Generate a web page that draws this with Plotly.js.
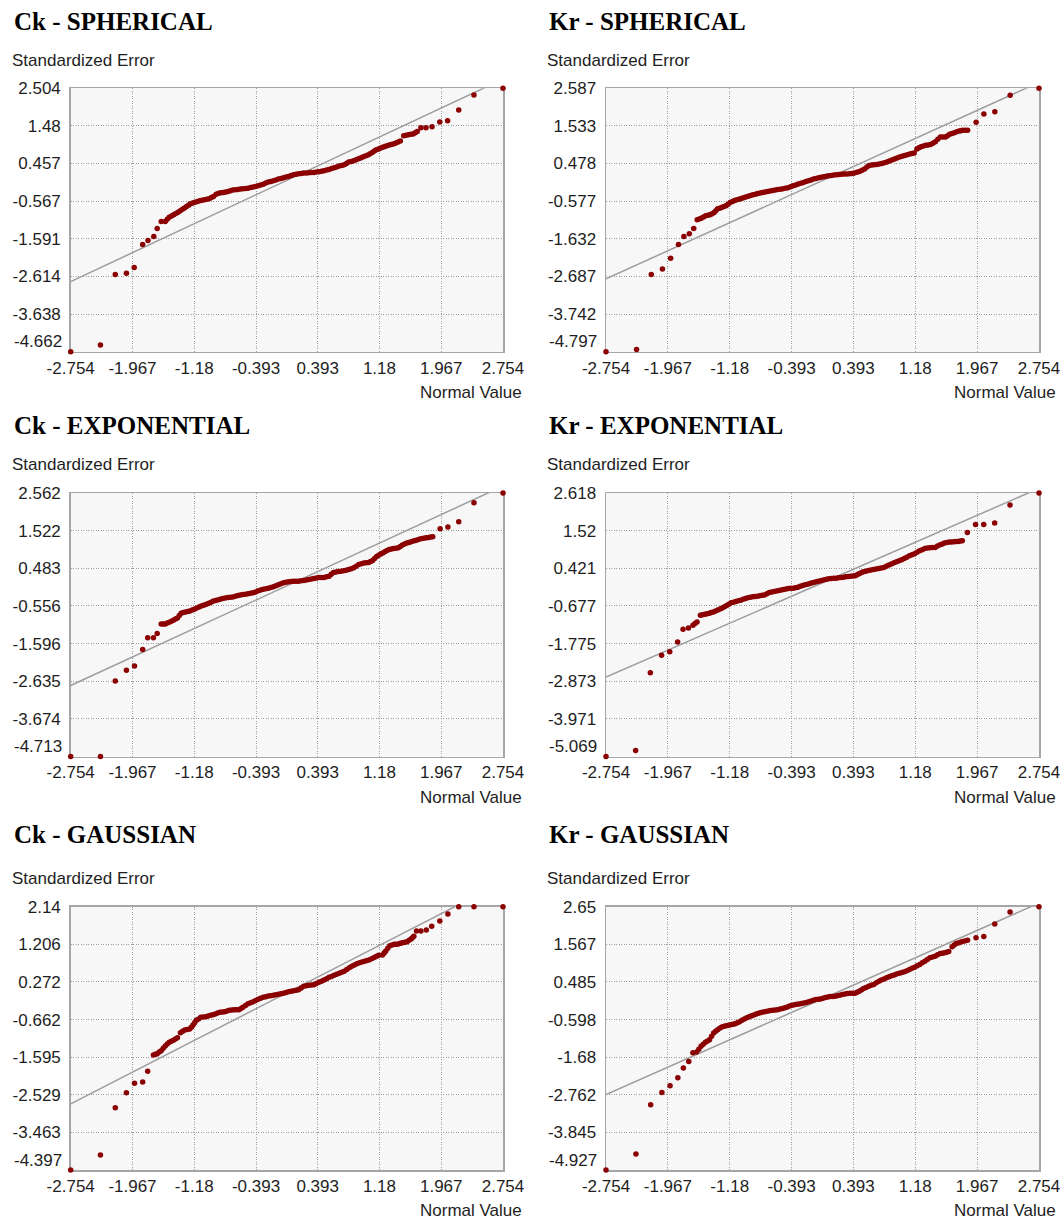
<!DOCTYPE html>
<html>
<head>
<meta charset="utf-8">
<script src="https://cdn.plot.ly/plotly-3.0.1.min.js"></script>
<style>
  html, body { margin: 0; padding: 0; background: #ffffff; }
  #chart { width: 1064px; height: 1220px; }
</style>
</head>
<body>
<div id="chart"></div>
<script>
// ---------------- DATA ----------------
const panelTitles = ['Ck - SPHERICAL', 'Kr - SPHERICAL', 'Ck - EXPONENTIAL', 'Kr - EXPONENTIAL', 'Ck - GAUSSIAN', 'Kr - GAUSSIAN'];
const yAxisLabel = 'Standardized Error';
const xAxisLabel = 'Normal Value';

const normalTicks = [-2.754, -1.967, -1.18, -0.393, 0.393, 1.18, 1.967, 2.754];
const ckSphTicks = [-4.662, -3.638, -2.614, -1.591, -0.567, 0.457, 1.48, 2.504];
const krSphTicks = [-4.797, -3.742, -2.687, -1.632, -0.577, 0.478, 1.533, 2.587];
const ckExpTicks = [-4.713, -3.674, -2.635, -1.596, -0.556, 0.483, 1.522, 2.562];
const krExpTicks = [-5.069, -3.971, -2.873, -1.775, -0.677, 0.421, 1.52, 2.618];
const ckGauTicks = [-4.397, -3.463, -2.529, -1.595, -0.662, 0.272, 1.206, 2.14];
const krGauTicks = [-4.927, -3.845, -2.762, -1.68, -0.598, 0.485, 1.567, 2.65];

// reference line (y = x)
const refLineX = [-2.754, 2.754];
const refLineY = [-2.754, 2.754];

// Ck - SPHERICAL
const ckSphX = [-2.754,-2.375,-2.186,-2.044,-1.945,-1.837,-1.769,-1.695,-1.652,-1.601,-1.549,-1.498,-1.442,-1.386,-1.330,-1.278,-1.227,-1.171,-1.110,-1.050,-0.990,-0.934,-0.869,-0.809,-0.749,-0.689,-0.624,-0.560,-0.495,-0.430,-0.366,-0.301,-0.237,-0.172,-0.108,-0.043,0.021,0.086,0.150,0.215,0.279,0.344,0.409,0.473,0.538,0.602,0.667,0.731,0.787,0.852,0.912,0.968,1.033,1.088,1.140,1.196,1.248,1.304,1.355,1.411,1.446,1.489,1.549,1.609,1.661,1.708,1.773,1.850,1.949,2.048,2.190,2.384,2.754];
const ckSphY = [-4.662,-4.481,-2.564,-2.528,-2.373,-1.747,-1.638,-1.529,-1.311,-1.120,-1.120,-1.002,-0.938,-0.866,-0.784,-0.711,-0.639,-0.593,-0.557,-0.530,-0.502,-0.439,-0.348,-0.330,-0.303,-0.266,-0.248,-0.230,-0.212,-0.184,-0.148,-0.103,-0.048,-0.012,0.034,0.070,0.106,0.152,0.179,0.197,0.206,0.215,0.233,0.261,0.297,0.342,0.388,0.424,0.497,0.533,0.588,0.633,0.688,0.760,0.833,0.878,0.924,0.960,0.987,1.033,1.069,1.214,1.242,1.260,1.332,1.432,1.432,1.459,1.587,1.623,1.914,2.322,2.504];
const ckSphXMid = [-1.524,-1.470,-1.414,-1.358,-1.304,-1.252,-1.199,-1.140,-1.080,-1.020,-0.962,-0.901,-0.839,-0.779,-0.719,-0.656,-0.592,-0.527,-0.462,-0.398,-0.333,-0.269,-0.204,-0.140,-0.075,-0.011,0.054,0.118,0.183,0.247,0.312,0.376,0.441,0.506,0.570,0.635,0.699,0.759,0.820,0.882,0.940,1.000,1.060,1.114,1.168,1.222,1.276,1.330,1.383,1.519,1.579,1.635];
const ckSphYMid = [-1.060,-0.970,-0.900,-0.825,-0.750,-0.675,-0.615,-0.575,-0.543,-0.515,-0.470,-0.380,-0.338,-0.316,-0.285,-0.257,-0.239,-0.221,-0.198,-0.166,-0.125,-0.075,-0.030,0.011,0.052,0.088,0.129,0.166,0.188,0.202,0.210,0.224,0.247,0.279,0.320,0.365,0.406,0.460,0.515,0.560,0.610,0.660,0.724,0.797,0.856,0.901,0.942,0.973,1.010,1.228,1.251,1.296];

// Kr - SPHERICAL
const krSphX = [-2.754,-2.365,-2.178,-2.036,-1.932,-1.832,-1.763,-1.694,-1.638,-1.594,-1.542,-1.486,-1.430,-1.378,-1.335,-1.283,-1.227,-1.175,-1.118,-1.062,-1.006,-0.945,-0.885,-0.824,-0.763,-0.699,-0.634,-0.569,-0.504,-0.439,-0.374,-0.309,-0.244,-0.179,-0.114,-0.050,0.015,0.080,0.145,0.210,0.275,0.340,0.405,0.470,0.535,0.595,0.656,0.721,0.786,0.850,0.915,0.980,1.045,1.110,1.166,1.201,1.253,1.314,1.374,1.435,1.500,1.565,1.617,1.677,1.738,1.781,1.846,1.954,2.053,2.192,2.387,2.754];
const krSphY = [-4.797,-4.732,-2.635,-2.476,-2.177,-1.793,-1.568,-1.493,-1.344,-1.100,-1.054,-0.988,-0.960,-0.894,-0.792,-0.754,-0.707,-0.614,-0.558,-0.520,-0.483,-0.436,-0.399,-0.361,-0.333,-0.305,-0.277,-0.249,-0.230,-0.202,-0.146,-0.099,-0.052,-0.005,0.041,0.079,0.107,0.135,0.154,0.172,0.182,0.191,0.210,0.257,0.322,0.425,0.444,0.462,0.500,0.547,0.603,0.659,0.706,0.743,0.771,0.884,0.949,0.987,1.015,1.090,1.221,1.221,1.296,1.342,1.389,1.408,1.408,1.632,1.866,1.932,2.390,2.587];
const krSphXMid = [-1.568,-1.514,-1.458,-1.404,-1.357,-1.309,-1.255,-1.201,-1.146,-1.090,-1.034,-0.975,-0.915,-0.854,-0.793,-0.731,-0.666,-0.601,-0.536,-0.471,-0.406,-0.341,-0.276,-0.211,-0.146,-0.082,-0.017,0.048,0.113,0.178,0.243,0.308,0.373,0.438,0.503,0.565,0.626,0.689,0.754,0.818,0.883,0.948,1.013,1.078,1.138,1.227,1.284,1.344,1.405,1.467,1.532,1.591,1.647,1.708,1.760,1.814];
const krSphYMid = [-1.077,-1.021,-0.974,-0.927,-0.843,-0.773,-0.730,-0.660,-0.586,-0.539,-0.501,-0.460,-0.418,-0.380,-0.347,-0.319,-0.291,-0.263,-0.240,-0.216,-0.174,-0.122,-0.075,-0.028,0.018,0.060,0.093,0.121,0.145,0.163,0.177,0.186,0.200,0.233,0.290,0.380,0.435,0.453,0.481,0.523,0.575,0.631,0.683,0.725,0.757,0.920,0.968,1.001,1.050,1.160,1.221,1.260,1.320,1.366,1.400,1.408];

// Ck - EXPONENTIAL
const ckExpX = [-2.754,-2.375,-2.186,-2.044,-1.941,-1.837,-1.773,-1.700,-1.652,-1.601,-1.549,-1.498,-1.446,-1.394,-1.347,-1.291,-1.235,-1.179,-1.119,-1.063,-1.003,-0.942,-0.882,-0.818,-0.753,-0.689,-0.624,-0.560,-0.495,-0.430,-0.366,-0.301,-0.237,-0.172,-0.108,-0.043,0.021,0.086,0.150,0.215,0.279,0.344,0.409,0.473,0.538,0.594,0.658,0.723,0.787,0.852,0.916,0.981,1.041,1.093,1.144,1.196,1.248,1.304,1.360,1.420,1.472,1.528,1.583,1.639,1.695,1.756,1.807,1.859,1.953,2.052,2.190,2.384,2.754];
const ckExpY = [-4.713,-4.713,-2.629,-2.334,-2.214,-1.762,-1.431,-1.431,-1.320,-1.053,-1.053,-1.006,-0.951,-0.887,-0.757,-0.721,-0.693,-0.647,-0.582,-0.536,-0.490,-0.426,-0.389,-0.352,-0.324,-0.306,-0.269,-0.241,-0.223,-0.195,-0.140,-0.094,-0.066,-0.029,0.026,0.082,0.109,0.128,0.128,0.146,0.174,0.201,0.229,0.229,0.266,0.367,0.395,0.414,0.450,0.497,0.589,0.626,0.644,0.699,0.810,0.875,0.939,1.004,1.031,1.050,1.124,1.179,1.216,1.253,1.290,1.317,1.336,1.354,1.575,1.621,1.769,2.295,2.562];
const ckExpXMid = [-1.575,-1.524,-1.472,-1.420,-1.370,-1.319,-1.263,-1.207,-1.149,-1.091,-1.033,-0.972,-0.912,-0.850,-0.785,-0.721,-0.656,-0.592,-0.527,-0.462,-0.398,-0.333,-0.269,-0.204,-0.140,-0.075,-0.011,0.054,0.118,0.183,0.247,0.312,0.376,0.441,0.506,0.566,0.626,0.690,0.755,0.820,0.884,0.948,1.011,1.067,1.118,1.170,1.222,1.276,1.332,1.390,1.446,1.500,1.555,1.611,1.667,1.725,1.781,1.833];
const ckExpYMid = [-1.053,-1.030,-0.978,-0.920,-0.820,-0.739,-0.707,-0.670,-0.615,-0.559,-0.513,-0.458,-0.408,-0.370,-0.338,-0.315,-0.288,-0.255,-0.232,-0.209,-0.168,-0.117,-0.080,-0.048,-0.002,0.054,0.096,0.119,0.128,0.137,0.160,0.188,0.215,0.229,0.247,0.320,0.381,0.405,0.432,0.474,0.543,0.608,0.635,0.670,0.755,0.843,0.907,0.972,1.018,1.040,1.087,1.152,1.198,1.235,1.272,1.304,1.326,1.345];

// Kr - EXPONENTIAL
const krExpX = [-2.754,-2.377,-2.190,-2.047,-1.943,-1.843,-1.774,-1.705,-1.648,-1.596,-1.553,-1.496,-1.440,-1.388,-1.332,-1.275,-1.219,-1.163,-1.102,-1.041,-0.980,-0.920,-0.859,-0.798,-0.738,-0.677,-0.616,-0.555,-0.495,-0.434,-0.373,-0.313,-0.252,-0.191,-0.131,-0.070,-0.009,0.052,0.112,0.173,0.234,0.295,0.355,0.416,0.464,0.520,0.585,0.650,0.715,0.780,0.845,0.910,0.975,1.040,1.105,1.170,1.235,1.301,1.366,1.431,1.496,1.552,1.613,1.674,1.726,1.778,1.843,1.947,2.051,2.190,2.385,2.754];
const krExpY = [-5.069,-4.894,-2.624,-2.117,-2.010,-1.727,-1.357,-1.318,-1.240,-1.143,-0.948,-0.919,-0.889,-0.850,-0.792,-0.734,-0.665,-0.587,-0.548,-0.509,-0.461,-0.422,-0.402,-0.383,-0.354,-0.285,-0.256,-0.227,-0.198,-0.169,-0.159,-0.129,-0.081,-0.042,-0.003,0.036,0.065,0.104,0.124,0.134,0.153,0.173,0.192,0.202,0.260,0.319,0.358,0.387,0.416,0.445,0.514,0.582,0.640,0.708,0.786,0.845,0.932,1.001,1.020,1.030,1.108,1.157,1.186,1.196,1.205,1.225,1.468,1.702,1.702,1.741,2.267,2.618];
const krExpXMid = [-1.622,-1.525,-1.468,-1.414,-1.360,-1.303,-1.247,-1.191,-1.132,-1.071,-1.010,-0.950,-0.889,-0.828,-0.768,-0.707,-0.646,-0.585,-0.525,-0.464,-0.403,-0.343,-0.282,-0.221,-0.161,-0.100,-0.039,0.022,0.082,0.143,0.204,0.264,0.325,0.386,0.440,0.492,0.552,0.617,0.682,0.747,0.812,0.877,0.942,1.007,1.072,1.137,1.202,1.268,1.333,1.398,1.463,1.524,1.582,1.643,1.700,1.752];
const krExpYMid = [-1.190,-0.934,-0.904,-0.870,-0.821,-0.763,-0.700,-0.626,-0.568,-0.528,-0.485,-0.441,-0.412,-0.392,-0.368,-0.320,-0.270,-0.241,-0.212,-0.184,-0.164,-0.144,-0.105,-0.061,-0.022,0.016,0.050,0.085,0.114,0.129,0.143,0.163,0.182,0.197,0.230,0.290,0.338,0.372,0.401,0.430,0.480,0.548,0.611,0.674,0.747,0.815,0.888,0.966,1.010,1.025,1.070,1.132,1.171,1.190,1.200,1.215];

// Ck - GAUSSIAN
const ckGauX = [-2.754,-2.375,-2.186,-2.044,-1.941,-1.837,-1.773,-1.700,-1.652,-1.601,-1.549,-1.498,-1.446,-1.394,-1.356,-1.300,-1.239,-1.196,-1.153,-1.097,-1.033,-0.972,-0.912,-0.852,-0.792,-0.732,-0.671,-0.611,-0.560,-0.495,-0.430,-0.366,-0.301,-0.237,-0.172,-0.108,-0.043,0.021,0.086,0.150,0.215,0.279,0.344,0.409,0.473,0.538,0.602,0.667,0.731,0.796,0.860,0.925,0.990,1.054,1.119,1.170,1.218,1.261,1.312,1.368,1.420,1.476,1.532,1.583,1.618,1.652,1.708,1.777,1.846,1.949,2.052,2.190,2.384,2.754];
const ckGauY = [-4.397,-4.025,-2.850,-2.477,-2.246,-2.213,-1.948,-1.542,-1.509,-1.435,-1.319,-1.228,-1.178,-1.112,-0.988,-0.922,-0.897,-0.798,-0.682,-0.607,-0.591,-0.558,-0.524,-0.483,-0.466,-0.433,-0.417,-0.417,-0.359,-0.268,-0.218,-0.160,-0.111,-0.078,-0.061,-0.036,-0.011,0.030,0.055,0.080,0.162,0.187,0.204,0.262,0.320,0.386,0.435,0.485,0.535,0.626,0.692,0.750,0.783,0.824,0.882,0.932,0.940,1.040,1.172,1.205,1.213,1.246,1.271,1.337,1.404,1.536,1.536,1.561,1.652,1.784,1.958,2.14,2.14,2.14];
const ckGauXMid = [-1.676,-1.626,-1.575,-1.524,-1.472,-1.420,-1.328,-1.270,-1.217,-1.175,-1.125,-1.065,-1.002,-0.942,-0.882,-0.822,-0.762,-0.701,-0.641,-0.585,-0.527,-0.462,-0.398,-0.333,-0.269,-0.204,-0.140,-0.075,-0.011,0.054,0.118,0.183,0.247,0.312,0.376,0.441,0.506,0.570,0.635,0.699,0.763,0.828,0.892,0.957,1.022,1.087,1.145,1.240,1.286,1.340,1.394,1.448,1.504,1.558,1.600];
const ckGauYMid = [-1.525,-1.470,-1.377,-1.270,-1.203,-1.145,-0.955,-0.910,-0.850,-0.740,-0.645,-0.600,-0.574,-0.541,-0.500,-0.474,-0.450,-0.425,-0.417,-0.390,-0.310,-0.243,-0.189,-0.135,-0.094,-0.070,-0.048,-0.024,0.010,0.043,0.068,0.120,0.175,0.196,0.233,0.291,0.353,0.410,0.460,0.510,0.580,0.659,0.721,0.767,0.803,0.853,0.907,0.990,1.106,1.190,1.209,1.230,1.258,1.304,1.370];

// Kr - GAUSSIAN
const krGauX = [-2.754,-2.373,-2.186,-2.043,-1.939,-1.840,-1.770,-1.701,-1.649,-1.601,-1.545,-1.489,-1.437,-1.385,-1.333,-1.281,-1.224,-1.168,-1.112,-1.055,-0.995,-0.934,-0.873,-0.813,-0.752,-0.691,-0.631,-0.570,-0.509,-0.448,-0.388,-0.327,-0.267,-0.206,-0.145,-0.085,-0.024,0.037,0.098,0.158,0.219,0.284,0.349,0.414,0.466,0.522,0.587,0.652,0.717,0.782,0.847,0.912,0.977,1.042,1.107,1.172,1.237,1.302,1.367,1.432,1.497,1.554,1.606,1.649,1.701,1.771,1.845,1.953,2.052,2.191,2.386,2.754];
const krGauY = [-4.927,-4.465,-3.052,-2.696,-2.504,-2.273,-1.994,-1.802,-1.552,-1.533,-1.369,-1.254,-1.177,-0.985,-0.888,-0.812,-0.773,-0.744,-0.715,-0.658,-0.581,-0.514,-0.465,-0.417,-0.379,-0.350,-0.331,-0.312,-0.283,-0.235,-0.187,-0.158,-0.138,-0.110,-0.062,-0.023,-0.004,0.035,0.063,0.073,0.102,0.140,0.160,0.160,0.217,0.294,0.362,0.410,0.506,0.573,0.631,0.688,0.737,0.775,0.842,0.910,0.987,1.083,1.179,1.227,1.304,1.323,1.362,1.496,1.592,1.640,1.688,1.756,1.794,2.150,2.496,2.65];
const krGauXMid = [-1.573,-1.517,-1.463,-1.411,-1.359,-1.307,-1.252,-1.196,-1.140,-1.083,-1.025,-0.964,-0.903,-0.843,-0.782,-0.721,-0.661,-0.600,-0.539,-0.478,-0.418,-0.357,-0.297,-0.236,-0.175,-0.115,-0.054,0.006,0.067,0.128,0.188,0.251,0.316,0.381,0.440,0.494,0.554,0.619,0.684,0.749,0.814,0.879,0.944,1.009,1.074,1.139,1.204,1.269,1.334,1.399,1.464,1.525,1.580,1.675,1.736,1.808];
const krGauYMid = [-1.450,-1.310,-1.215,-1.080,-0.936,-0.850,-0.792,-0.758,-0.730,-0.690,-0.620,-0.547,-0.490,-0.441,-0.398,-0.364,-0.340,-0.322,-0.297,-0.259,-0.211,-0.172,-0.148,-0.124,-0.086,-0.042,-0.013,0.015,0.049,0.068,0.087,0.121,0.150,0.160,0.188,0.255,0.328,0.386,0.458,0.540,0.602,0.660,0.712,0.756,0.808,0.876,0.948,1.035,1.131,1.203,1.265,1.313,1.342,1.545,1.616,1.664];

// ---------------- LAYOUT (pixels) ----------------
const W = 1064, H = 1220;
const colPx = [[70.7, 503], [606, 1039]];
const rowPx = [[88.3, 351.7], [493, 756.5], [906.7, 1170]];
const titleY = [21, 425, 834];
const titleX = [12, 547];
const seY = [60, 465, 878];
const seX = [10, 545];
const nvY = [392, 797, 1210];
const nvX = [523.5, 1058];

const px = v => v / W;
const py = v => 1 - v / H;

const series = [
  {x: ckSphX.concat(ckSphXMid), y: ckSphY.concat(ckSphYMid), ticks: ckSphTicks},
  {x: krSphX.concat(krSphXMid), y: krSphY.concat(krSphYMid), ticks: krSphTicks},
  {x: ckExpX.concat(ckExpXMid), y: ckExpY.concat(ckExpYMid), ticks: ckExpTicks},
  {x: krExpX.concat(krExpXMid), y: krExpY.concat(krExpYMid), ticks: krExpTicks},
  {x: ckGauX.concat(ckGauXMid), y: ckGauY.concat(ckGauYMid), ticks: ckGauTicks},
  {x: krGauX.concat(krGauXMid), y: krGauY.concat(krGauYMid), ticks: krGauTicks}
];

const tickFont = {family: 'Liberation Sans, Arial, sans-serif', size: 17, color: '#1e1e1e'};
const traces = [];
const layout = {
  width: W, height: H,
  margin: {l: 0, r: 0, t: 0, b: 0},
  paper_bgcolor: '#ffffff',
  plot_bgcolor: '#f7f7f7',
  showlegend: false,
  annotations: []
};

series.forEach((s, i) => {
  const n = i + 1;
  const col = i % 2, row = Math.floor(i / 2);
  const xa = n === 1 ? 'x' : 'x' + n;
  const ya = n === 1 ? 'y' : 'y' + n;
  const ymin = s.ticks[0], ymax = s.ticks[s.ticks.length - 1];

  traces.push({
    type: 'scatter', mode: 'lines', x: refLineX, y: refLineY,
    xaxis: xa, yaxis: ya, hoverinfo: 'skip',
    line: {color: '#9d9d9d', width: 1.5}
  });
  traces.push({
    type: 'scatter', mode: 'markers', x: s.x, y: s.y,
    xaxis: xa, yaxis: ya, cliponaxis: false,
    marker: {color: '#8b0000', size: 5.5, line: {width: 0}}
  });

  const common = {
    showgrid: true, gridcolor: '#9c9c9c', griddash: '1px,1.5px', gridwidth: 1,
    zeroline: false, showline: true, mirror: true,
    linecolor: '#a6a6a6', linewidth: 1.5, layer: 'below traces',
    ticks: '', tickfont: tickFont, fixedrange: true
  };
  layout['xaxis' + (n === 1 ? '' : n)] = Object.assign({}, common, {
    domain: [px(colPx[col][0]), px(colPx[col][1])],
    anchor: ya,
    range: [normalTicks[0], normalTicks[normalTicks.length - 1]],
    tickmode: 'array', tickvals: normalTicks,
    ticktext: normalTicks.map(String),
    ticklabelstandoff: 0
  });
  layout['yaxis' + (n === 1 ? '' : n)] = Object.assign({}, common, {
    domain: [py(rowPx[row][1]), py(rowPx[row][0])],
    anchor: xa,
    range: [ymin, ymax],
    tickmode: 'array', tickvals: s.ticks,
    ticktext: s.ticks.map((t, k) => k === 0 ? '' : String(t)),
    ticklabelstandoff: 5
  });

  // bottom y tick label, lifted as in the original
  layout.annotations.push({
    xref: 'paper', yref: ya, x: px(colPx[col][0] - 7), y: ymin,
    xanchor: 'right', yanchor: 'middle', yshift: 10,
    text: String(ymin), showarrow: false, font: tickFont
  });
  // panel title
  layout.annotations.push({
    xref: 'paper', yref: 'paper', x: px(titleX[col]), y: py(titleY[row]),
    xanchor: 'left', yanchor: 'middle', showarrow: false,
    text: '<b>' + panelTitles[i] + '</b>',
    font: {family: 'Liberation Serif, Times New Roman, serif', size: 25, color: '#000000'}
  });
  // y axis label
  layout.annotations.push({
    xref: 'paper', yref: 'paper', x: px(seX[col]), y: py(seY[row]),
    xanchor: 'left', yanchor: 'middle', showarrow: false,
    text: yAxisLabel,
    font: {family: 'Liberation Sans, Arial, sans-serif', size: 17, color: '#1e1e1e'}
  });
  // x axis label
  layout.annotations.push({
    xref: 'paper', yref: 'paper', x: px(nvX[col]), y: py(nvY[row]),
    xanchor: 'right', yanchor: 'middle', showarrow: false,
    text: xAxisLabel,
    font: {family: 'Liberation Sans, Arial, sans-serif', size: 17, color: '#1e1e1e'}
  });
});

Plotly.newPlot('chart', traces, layout, {staticPlot: true, displayModeBar: false});
</script>
</body>
</html>
